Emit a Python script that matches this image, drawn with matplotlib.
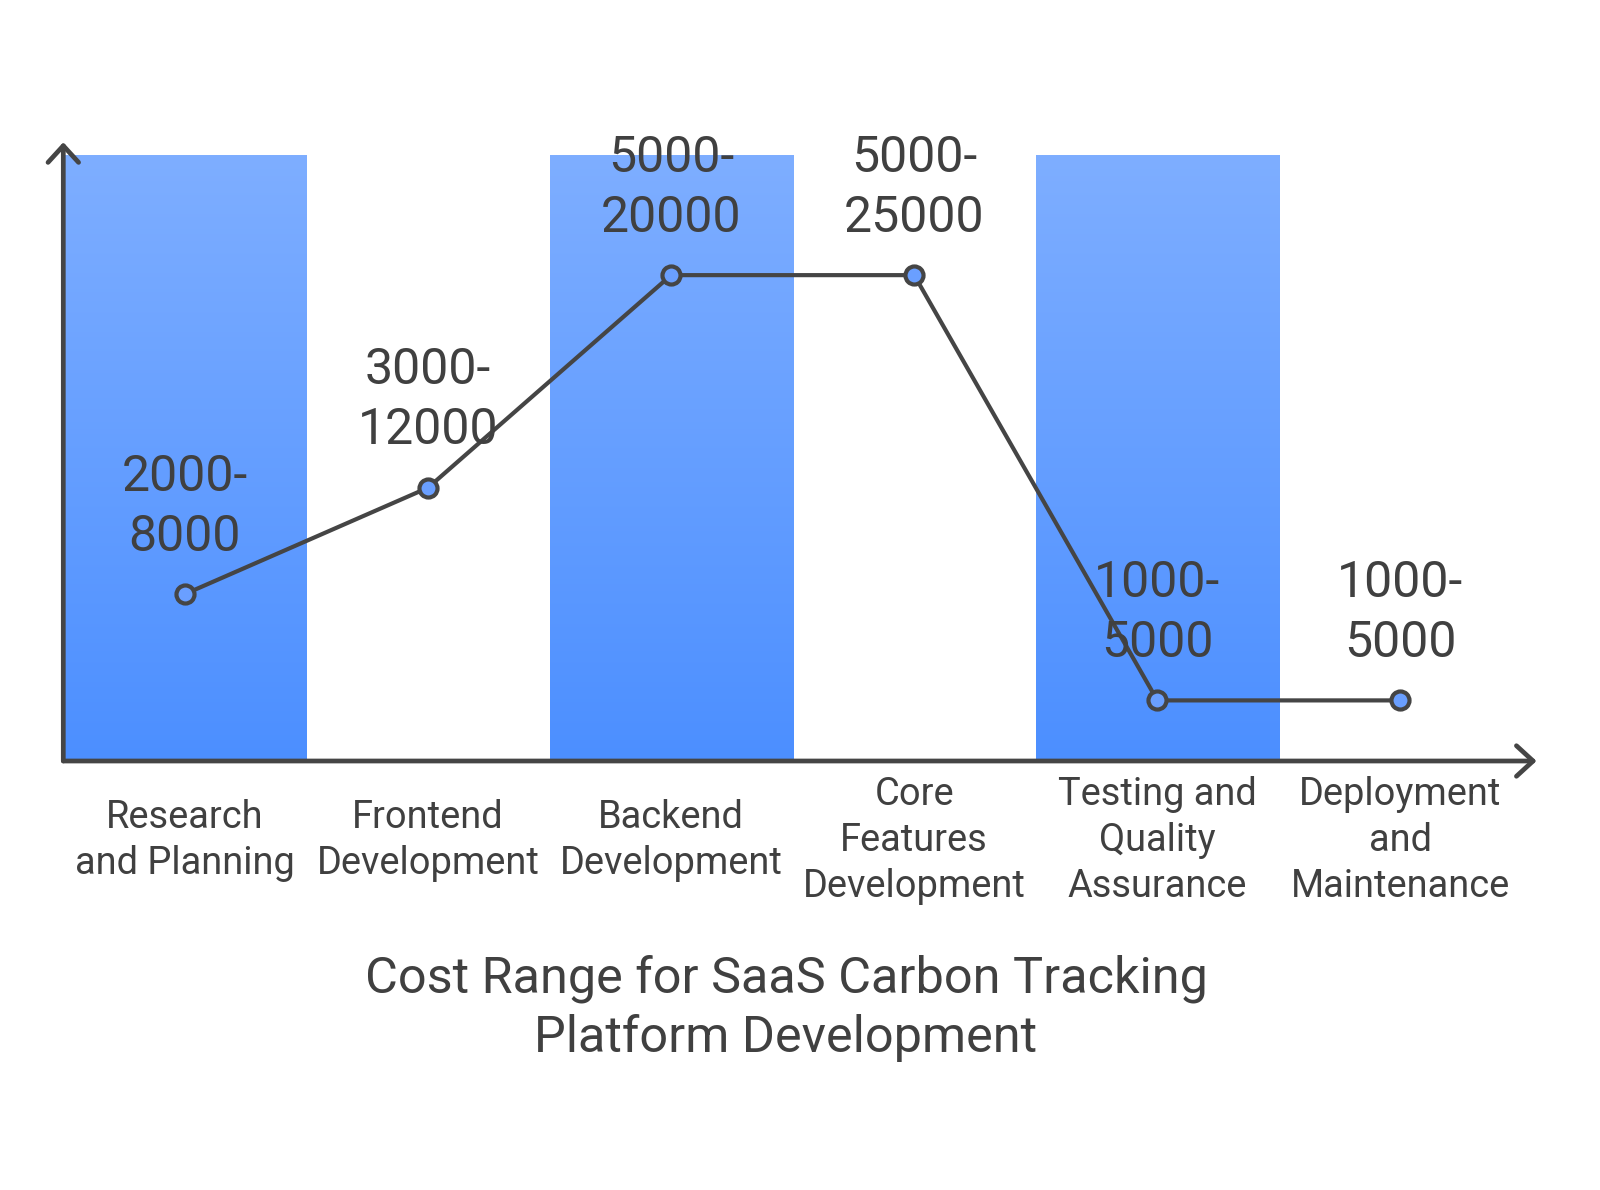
import matplotlib.pyplot as plt
import numpy as np
from matplotlib.colors import LinearSegmentedColormap

plt.rcParams['font.family'] = ['Roboto', 'DejaVu Sans']

# Data
categories = ['Research\nand Planning', 'Frontend\nDevelopment', 'Backend\nDevelopment',
              'Core\nFeatures\nDevelopment', 'Testing and\nQuality\nAssurance',
              'Deployment\nand\nMaintenance']
range_labels = ['2000-\n8000', '3000-\n12000', '5000-\n20000', '5000-\n25000',
                '1000-\n5000', '1000-\n5000']
low_values = [2000, 3000, 5000, 5000, 1000, 1000]
shaded = [True, False, True, False, True, False]
title = 'Cost Range for SaaS Carbon Tracking\nPlatform Development'

text_col = '#404040'
line_col = '#454545'
ymin, ymax = 430, 6130

fig = plt.figure(figsize=(16, 11.9), dpi=100)
ax = fig.add_axes([63.3 / 1600, 1 - 761 / 1190, (1522 - 63.3) / 1600, (761 - 155) / 1190])
ax.set_xlim(0, len(categories))
ax.set_ylim(ymin, ymax)
ax.axis('off')

# gradient background bands
cmap = LinearSegmentedColormap.from_list('band', ['#4C8FFF', '#7EAEFF'])
grad = np.linspace(0, 1, 256).reshape(-1, 1)
for i, s in enumerate(shaded):
    if s:
        ax.imshow(grad, extent=(i, i + 1, ymin, ymax), origin='lower', cmap=cmap,
                  aspect='auto', zorder=1)

# line with markers
xs = np.arange(len(categories)) + 0.5
ax.plot(xs, low_values, color=line_col, lw=3, zorder=3, solid_capstyle='round')
ax.plot(xs, low_values, 'o', ms=13, mfc='#6A9FFF', mec=line_col, mew=3, zorder=4)

# value labels
for x, v, lab in zip(xs, low_values, range_labels):
    ax.annotate(lab, (x, v), xytext=(0, 24), textcoords='offset points',
                ha='center', va='bottom', fontsize=36, color=text_col,
                linespacing=1.32, zorder=5)

# axes with open arrowheads (whole axis drawn as one arrow each)
arrow_props = dict(arrowstyle='->,head_length=1.2,head_width=1.1', color=line_col,
                   lw=3.4, capstyle='round', joinstyle='round',
                   shrinkA=0, shrinkB=0)
ax.annotate('', xy=(0, ymax + 120), xytext=(0, ymin),
            arrowprops=arrow_props, annotation_clip=False, zorder=6)
ax.annotate('', xy=(len(categories) + 0.06, ymin), xytext=(0, ymin),
            arrowprops=arrow_props, annotation_clip=False, zorder=6)

# category labels
for x, c in zip(xs, categories):
    fig.text(ax.transData.transform((x, 0))[0] / 1600, 1 - 840.5 / 1190, c,
             ha='center', va='center', fontsize=27.4, color=text_col, linespacing=1.3)

fig.text(786 / 1600, 1 - 1008.5 / 1190, title, ha='center', va='center',
         fontsize=36.3, color=text_col, linespacing=1.3)

fig.savefig('out.png', dpi=100, facecolor='white')
